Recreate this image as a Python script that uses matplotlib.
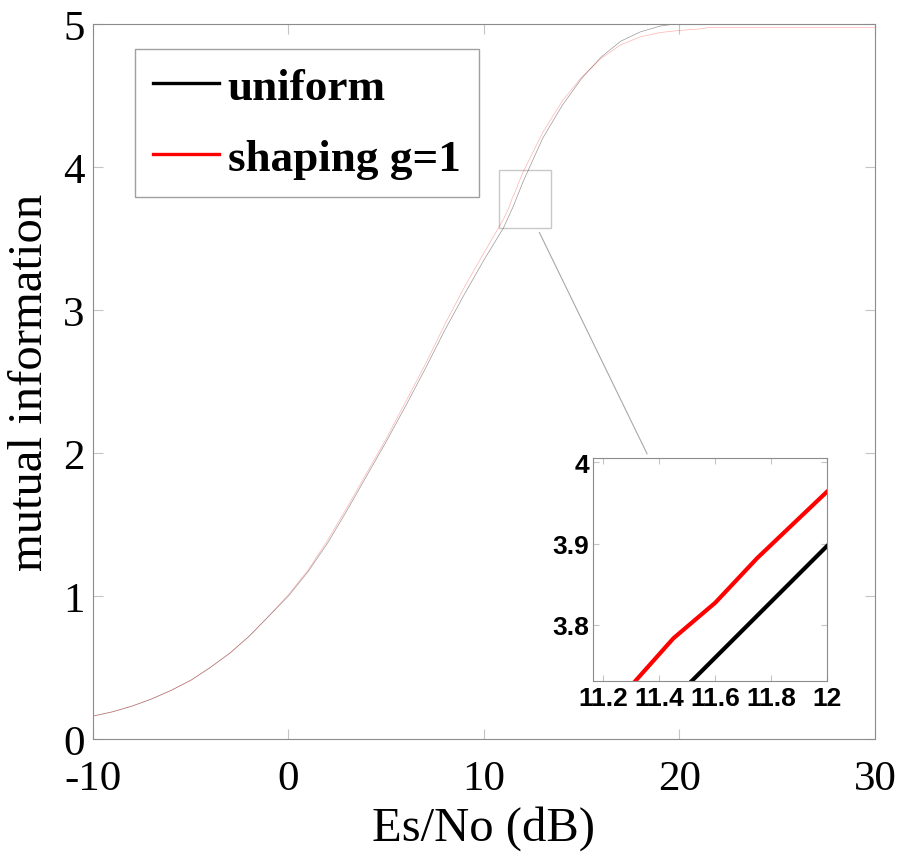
import matplotlib
matplotlib.use("Agg")
import matplotlib.pyplot as plt
from matplotlib.patches import Rectangle, ConnectionPatch
from matplotlib.lines import Line2D

# data
uniform_snr = [-10, -9, -8, -7, -6, -5, -4, -3, -2, -1, 0, 1, 2, 3, 4, 5, 6, 7, 8, 9,
               10, 11, 11.5, 12, 13, 14, 15, 16, 17, 18, 19, 19.5, 20, 25, 30]
uniform_mi = [0.16, 0.19, 0.23, 0.28, 0.34, 0.41, 0.50, 0.60, 0.72, 0.86, 1.00, 1.17,
              1.37, 1.60, 1.84, 2.08, 2.33, 2.59, 2.86, 3.11, 3.35, 3.575, 3.725, 3.897,
              4.20, 4.43, 4.62, 4.77, 4.88, 4.945, 4.985, 4.995, 5.0, 5.0, 5.0]

shaping_snr = [-10, -9, -8, -7, -6, -5, -4, -3, -2, -1, 0, 1, 2, 3, 4, 5, 6, 7, 8, 9,
               10, 11, 11.3, 11.45, 11.6, 11.75, 12, 13, 14, 15, 16, 17, 18, 19, 20,
               21, 21.5, 25, 30]
shaping_mi = [0.16, 0.19, 0.23, 0.28, 0.34, 0.41, 0.50, 0.60, 0.72, 0.86, 1.01, 1.18,
              1.39, 1.62, 1.86, 2.10, 2.36, 2.62, 2.90, 3.16, 3.40, 3.635, 3.725, 3.783,
              3.827, 3.882, 3.964, 4.24, 4.46, 4.63, 4.76, 4.855, 4.91, 4.94, 4.955,
              4.965, 4.975, 4.975, 4.975]

labels = ["uniform", "shaping g=1"]
x_ticks = [-10, 0, 10, 20, 30]
y_ticks = [0, 1, 2, 3, 4, 5]
inset_x_ticks = [11.2, 11.4, 11.6, 11.8, 12]
inset_y_ticks = [3.8, 3.9, 4.0]

serif = "Liberation Serif"
sans = "Liberation Sans"

fig = plt.figure(figsize=(8.99, 8.53), dpi=100)
ax = fig.add_axes([0.1034, 0.1325, 0.8699, 0.8382])

ax.plot(uniform_snr, uniform_mi, color="k", lw=0.5, alpha=0.4)
ax.plot(shaping_snr, shaping_mi, color="r", lw=0.5, alpha=0.3)

ax.set_xlim(-10, 30)
ax.set_ylim(0, 5)
ax.set_xticks(x_ticks)
ax.set_yticks(y_ticks)
ax.set_xticklabels([str(t) for t in x_ticks], family=serif, fontsize=31)
ax.set_yticklabels([str(t) for t in y_ticks], family=serif, fontsize=31)
ax.tick_params(direction="in", length=7, color="#c4c4c4", top=True, right=True)
ax.tick_params(axis="x", pad=15)
ax.tick_params(axis="y", pad=6)
for sp in ax.spines.values():
    sp.set_color("#8c8c8c")
ax.set_xlabel("Es/No (dB)", family=serif, fontsize=35, labelpad=5)
ax.set_ylabel("mutual information", family=serif, fontsize=35, labelpad=8)

# legend with thick handles
handles = [Line2D([], [], color="k", lw=2.4), Line2D([], [], color="r", lw=2.4)]
leg = ax.legend(handles, labels, loc="upper left", bbox_to_anchor=(0.054, 0.965),
                borderaxespad=0, fancybox=False, framealpha=1, handlelength=1.45,
                handletextpad=0.2, borderpad=0.4, labelspacing=0.68,
                prop={"family": serif, "weight": "bold", "size": 32.5})
leg.get_frame().set_edgecolor("#a0a0a0")
leg.get_frame().set_linewidth(1.0)

# zoom box on main axes
ax.add_patch(Rectangle((10.78, 3.57), 2.63, 0.41, fill=False, ec="#c8c8c8", lw=1.0))

# inset
ins = fig.add_axes([0.66, 0.20, 0.26, 0.2615])
ins.plot(uniform_snr, uniform_mi, color="k", lw=3)
ins.plot(shaping_snr, shaping_mi, color="r", lw=3)
ins.set_xlim(11.164, 12)
ins.set_ylim(3.73, 4.005)
ins.set_xticks(inset_x_ticks)
ins.set_yticks(inset_y_ticks)
ins.set_xticklabels(["11.2", "11.4", "11.6", "11.8", "12"], family=sans,
                    weight="bold", fontsize=19)
ins.set_yticklabels(["3.8", "3.9", "4"], family=sans, weight="bold", fontsize=19)
ins.tick_params(direction="in", length=4, color="#c4c4c4", top=True, right=True, pad=3)
for sp in ins.spines.values():
    sp.set_color("#8c8c8c")

con = ConnectionPatch(xyA=(12.83, 3.543), coordsA=ax.transData,
                      xyB=(0.23, 1.02), coordsB=ins.transAxes,
                      color="#a8a8a8", lw=0.8)
fig.add_artist(con)

fig.savefig("out.png", dpi=100)
